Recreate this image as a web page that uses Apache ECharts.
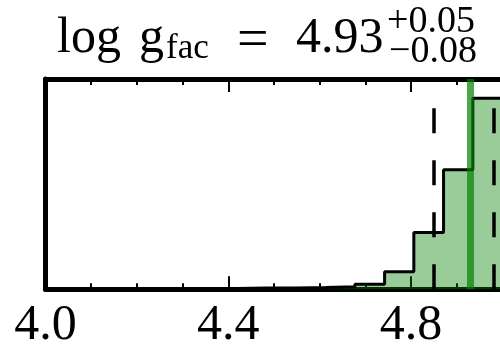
<!DOCTYPE html>
<html>
<head>
<meta charset="utf-8">
<script src="https://cdn.jsdelivr.net/npm/echarts@6/dist/echarts.min.js"></script>
<style>
  html, body { margin: 0; padding: 0; background: #fff; }
  #chart { width: 500px; height: 344px; }
</style>
</head>
<body>
<div id="chart"></div>
<script>
// Posterior histogram of log g_fac
const binEdges = [3.968, 4.032, 4.097, 4.161, 4.226, 4.290, 4.355, 4.419, 4.484,
                  4.548, 4.613, 4.677, 4.742, 4.806, 4.871, 4.935, 5.000];
const binCounts = [3, 5, 3, 5, 8, 6, 8, 12, 12, 18, 25, 50, 176, 570, 1200, 1916];
const median = 4.93;
const errPlus = 0.05;
const errMinus = 0.08;
const xTicks = [4.0, 4.4, 4.8];

const serif = '"Liberation Serif", "DejaVu Serif", serif';
const yMax = 2110;

// step outline points: each count holds from its left edge to the next edge
const stepData = [];
for (let i = 0; i < binCounts.length; i++) stepData.push([binEdges[i], binCounts[i]]);
stepData.push([binEdges[binEdges.length - 1], binCounts[binCounts.length - 1]]);

const lo = +(median - errMinus).toFixed(2);
const hi = +(median + errPlus).toFixed(2);

function vline(x) {
  return [{ coord: [x, 0] }, { coord: [x, yMax] }];
}

const chart = echarts.init(document.getElementById('chart'), null, { renderer: 'canvas' });

const axisCommon = {
  type: 'value',
  min: 4.0,
  max: 5.0,
  interval: 0.4,
  axisLine: { show: true, onZero: false, lineStyle: { color: '#000', width: 5 } },
  axisTick: { show: true, inside: true, length: 13, lineStyle: { color: '#000', width: 2 } },
  minorTick: { show: true, splitNumber: 4, length: 6, lineStyle: { color: '#000', width: 2 } },
  splitLine: { show: false },
  minorSplitLine: { show: false }
};

chart.setOption({
  animation: false,
  backgroundColor: '#fff',
  grid: { left: 45.5, right: -2.5, top: 79, bottom: 54.7, containLabel: false, outerBoundsMode: 'none' },
  xAxis: [
    Object.assign({}, axisCommon, {
      position: 'bottom',
      axisLabel: {
        show: true, margin: 12, color: '#000', fontFamily: serif, fontSize: 50,
        formatter: v => (xTicks.some(t => Math.abs(t - v) < 1e-9) ? v.toFixed(1) : '')
      }
    }),
    Object.assign({}, axisCommon, { position: 'top', axisLabel: { show: false } })
  ],
  yAxis: [
    { type: 'value', min: 0, max: yMax, position: 'left',
      axisLine: { show: true, onZero: false, lineStyle: { color: '#000', width: 5 } },
      axisTick: { show: false }, axisLabel: { show: false }, splitLine: { show: false } },
    { type: 'value', min: 0, max: yMax, position: 'right',
      axisLine: { show: true, onZero: false, lineStyle: { color: '#000', width: 5 } },
      axisTick: { show: false }, axisLabel: { show: false }, splitLine: { show: false } }
  ],
  series: [
    {
      type: 'line',
      xAxisIndex: 0,
      yAxisIndex: 0,
      data: stepData,
      step: 'end',
      symbol: 'none',
      lineStyle: { color: '#000', width: 3 },
      areaStyle: { color: 'rgba(0,128,0,0.4)', opacity: 1, origin: 'start' },
      z: 2
    },
    {
      type: 'line',
      xAxisIndex: 0,
      yAxisIndex: 0,
      data: [],
      z: 3,
      markLine: {
        silent: true,
        symbol: ['none', 'none'],
        label: { show: false },
        lineStyle: { color: '#000', width: 3.5, type: [25, 27] },
        data: [vline(lo), vline(hi)]
      }
    },
    {
      type: 'line',
      xAxisIndex: 0,
      yAxisIndex: 0,
      data: [],
      z: 4,
      markLine: {
        silent: true,
        symbol: ['none', 'none'],
        label: { show: false },
        lineStyle: { color: 'rgba(0,128,0,0.7)', width: 7, type: 'solid', opacity: 1 },
        data: [vline(median)]
      }
    }
  ],
  graphic: [
    { type: 'text', left: 57, top: 14, style: { text: 'log', fill: '#000', font: '50px ' + serif } },
    { type: 'text', left: 139, top: 14, style: { text: 'g', fill: '#000', font: '50px ' + serif } },
    { type: 'text', left: 166, top: 31, style: { text: 'fac', fill: '#000', font: '35px ' + serif } },
    { type: 'text', left: 237, top: 14, style: { text: '=', fill: '#000', font: '56px ' + serif } },
    { type: 'text', left: 296, top: 14, style: { text: median.toFixed(2), fill: '#000', font: '50px ' + serif } },
    { type: 'text', left: 387, top: 3, style: { text: '+' + errPlus.toFixed(2), fill: '#000', font: '38px ' + serif } },
    { type: 'text', left: 389, top: 33, style: { text: '\u2212' + errMinus.toFixed(2), fill: '#000', font: '38px ' + serif } }
  ]
});
</script>
</body>
</html>
